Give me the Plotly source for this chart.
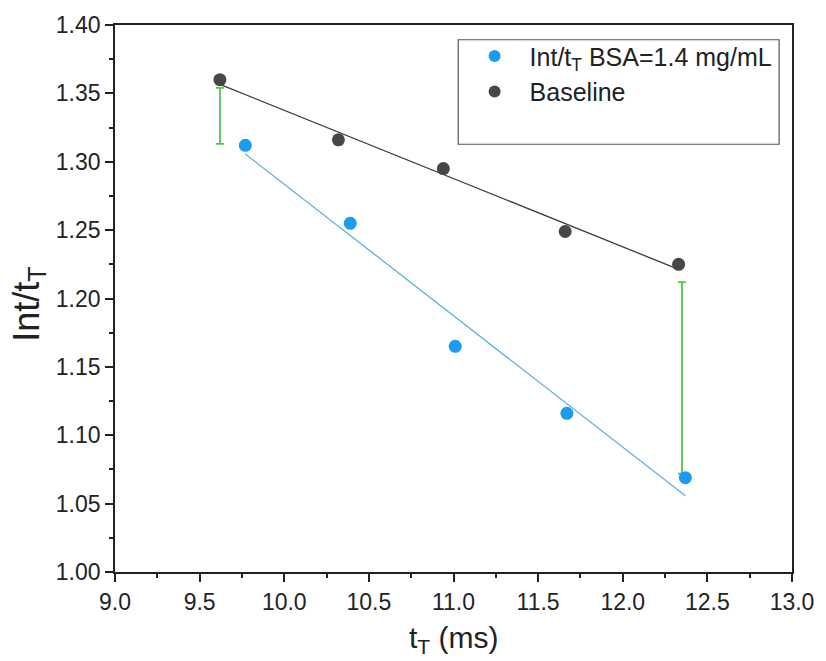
import numpy as np
import plotly.graph_objects as go

# Data
bsa_x = [9.77, 10.39, 11.01, 11.67, 12.37]
bsa_y = [1.312, 1.255, 1.165, 1.116, 1.069]
base_x = [9.62, 10.32, 10.94, 11.66, 12.33]
base_y = [1.360, 1.316, 1.295, 1.249, 1.225]
diff_x = [9.62, 12.35]
diff_low = [1.313, 1.072]
diff_high = [1.354, 1.212]

x_ticks = [9.0, 9.5, 10.0, 10.5, 11.0, 11.5, 12.0, 12.5, 13.0]
y_ticks = [1.00, 1.05, 1.10, 1.15, 1.20, 1.25, 1.30, 1.35, 1.40]

FONT = "Arial, Liberation Sans, sans-serif"

def fit(xs, ys):
    k, b = np.polyfit(xs, ys, 1)
    xx = np.array([min(xs), max(xs)])
    return xx, k * xx + b

fig = go.Figure()

bx, by = fit(base_x, base_y)
sx, sy = fit(bsa_x, bsa_y)

fig.add_trace(go.Scatter(x=bx, y=by, mode="lines", line=dict(color="#3a3a3a", width=1.3),
                         showlegend=False, hoverinfo="skip"))
fig.add_trace(go.Scatter(x=sx, y=sy, mode="lines", line=dict(color="#5ab4dc", width=1.3),
                         showlegend=False, hoverinfo="skip"))

mid = [(l + h) / 2 for l, h in zip(diff_low, diff_high)]
half = [(h - l) / 2 for l, h in zip(diff_low, diff_high)]
fig.add_trace(go.Scatter(x=diff_x, y=mid, mode="markers", marker=dict(size=1, opacity=0),
                         error_y=dict(type="data", array=half, visible=True, color="#4cc94c",
                                      thickness=1.8, width=4),
                         showlegend=False, hoverinfo="skip"))

fig.add_trace(go.Scatter(x=bsa_x, y=bsa_y, mode="markers", name="Int/t<sub>T</sub> BSA=1.4 mg/mL",
                         marker=dict(color="#1b9cf0", size=13)))
fig.add_trace(go.Scatter(x=base_x, y=base_y, mode="markers", name="Baseline",
                         marker=dict(color="#474747", size=13)))

axis_common = dict(showline=True, linecolor="#222", linewidth=1.8, mirror=True,
                   ticks="outside", ticklen=8, tickwidth=1.5, tickcolor="#222",
                   showgrid=False, zeroline=False,
                   tickfont=dict(family=FONT, size=23, color="#222"))

fig.update_layout(
    width=826, height=661,
    margin=dict(l=115, r=28, t=22, b=89),
    paper_bgcolor="white", plot_bgcolor="white",
    font=dict(family=FONT, color="#222"),
    xaxis=dict(range=[9.0, 13.0], tickvals=x_ticks, ticktext=[f"{v:.1f}" for v in x_ticks],
               minor=dict(ticks="outside", ticklen=4, tickcolor="#222", dtick=0.25, tick0=9.0),
               **axis_common),
    yaxis=dict(range=[1.0, 1.4], tickvals=y_ticks, ticktext=[f"{v:.2f}" for v in y_ticks],
               minor=dict(ticks="outside", ticklen=4, tickcolor="#222", dtick=0.025, tick0=1.0),
               **axis_common),
    legend=dict(x=0.509, y=0.985, xanchor="left", yanchor="top", bgcolor="rgba(0,0,0,0)",
                borderwidth=0, font=dict(family=FONT, size=25, color="#222"),
                itemsizing="constant", itemwidth=60),
    shapes=[dict(type="rect", xref="paper", yref="paper", x0=0.507, x1=0.981, y0=0.782, y1=0.973,
                 line=dict(color="#555", width=1.2), fillcolor="rgba(0,0,0,0)")],
    annotations=[
        dict(text="t<sub>T</sub> (ms)", xref="paper", yref="paper", x=0.5, y=-0.124,
             xanchor="center", yanchor="middle", showarrow=False,
             font=dict(family=FONT, size=30, color="#222")),
        dict(text="Int/t<sub>T</sub>", xref="paper", yref="paper", x=-0.128, y=0.489,
             xanchor="center", yanchor="middle", textangle=-90, showarrow=False,
             font=dict(family=FONT, size=36, color="#222")),
    ],
)

fig.write_html("out.html")
